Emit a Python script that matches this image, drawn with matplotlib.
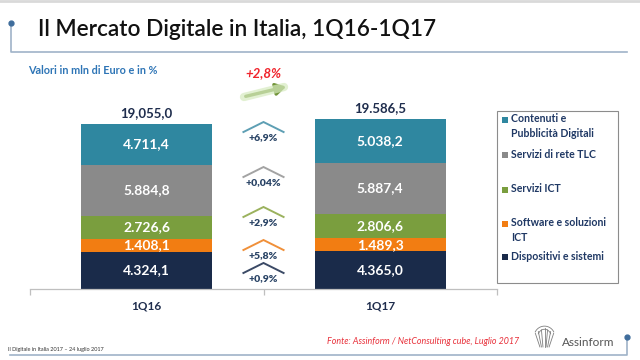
import matplotlib
matplotlib.use("Agg")
import matplotlib.pyplot as plt
from matplotlib.lines import Line2D
from matplotlib.patches import Rectangle, FancyArrowPatch
import numpy as np

# ---------------- data ----------------
categories = ['1Q16', '1Q17']
series_names = ['Dispositivi e sistemi', 'Software e soluzioni ICT', 'Servizi ICT',
                'Servizi di rete TLC', 'Contenuti e Pubblicità Digitali']
dispositivi = [4324.1, 4365.0]
software = [1408.1, 1489.3]
servizi_ict = [2726.6, 2806.6]
servizi_tlc = [5884.8, 5887.4]
contenuti = [4711.4, 5038.2]
total_labels = ['19,055,0', '19.586,5']
growth_labels = ['+0,9%', '+5,8%', '+2,9%', '+0,04%', '+6,9%']
total_growth = '+2,8%'
legend_labels = ['Contenuti e\nPubblicità Digitali', 'Servizi di rete TLC', 'Servizi ICT',
                 'Software e soluzioni\nICT', 'Dispositivi e sistemi']

# ---------------- style ----------------
colors = ['#1a2b4a', '#f27d12', '#7a9e3e', '#8a8a8a', '#2f87a0']
chev_colors = ['#3b4a66', '#f0903a', '#9bb25e', '#a3a3a3', '#5e9fb4']
navy = '#1f2d4d'
FONT = ['Lato', 'DejaVu Sans']
plt.rcParams['font.family'] = FONT

W, H = 640, 360
fig = plt.figure(figsize=(6.4, 3.6), dpi=100)
fig.patch.set_facecolor('white')

def fx(x):
    return x / W

def fy(y):
    return 1 - y / H

# ---------------- main axes ----------------
k = 0.00867  # px per unit
base_px, top_px = 289, 100
ax = fig.add_axes([fx(30), fy(base_px), 467 / W, (base_px - top_px) / H])
ymax = (base_px - top_px) / k
ax.set_xlim(-0.5, 1.5)
ax.set_ylim(0, ymax)

series = [dispositivi, software, servizi_ict, servizi_tlc, contenuti]
x = np.arange(len(categories))
bottom = np.zeros(len(categories))

def it_fmt(v):
    s = f"{v:,.1f}"
    return s.replace(',', 'X').replace('.', ',').replace('X', '.')

for vals, c in zip(series, colors):
    vals = np.array(vals)
    ax.bar(x, vals, bottom=bottom, width=0.56, color=c, linewidth=0, zorder=2)
    for xi, v, b in zip(x, vals, bottom):
        ax.text(xi, b + v / 2, it_fmt(v), ha='center', va='center', color='white',
                fontsize=10, fontweight='bold', zorder=3)
    bottom = bottom + vals

for xi, tot, lab in zip(x, bottom, total_labels):
    ax.annotate(lab, (xi, tot), xytext=(0, 8), textcoords='offset points',
                ha='center', va='center', fontsize=9.5, fontweight='bold', color=navy)

# growth chevrons between bars
apex_y = [3000, 5650, 9460, 14070, 19260]
hw = 0.086
drop = 10 / k
for ay, lab, cc in zip(apex_y, growth_labels, chev_colors):
    ax.plot([0.5 - hw, 0.5, 0.5 + hw], [ay - drop, ay, ay - drop], color=cc, lw=1.4,
            solid_joinstyle='miter', zorder=3)
    ax.annotate(lab, (0.5, ay), xytext=(0, -11.5), textcoords='offset points',
                ha='center', va='center', fontsize=7.5, fontweight='heavy', color='#2a4466')

for s in ['top', 'right', 'left']:
    ax.spines[s].set_visible(False)
ax.spines['bottom'].set_color('#bfbfbf')
ax.spines['bottom'].set_linewidth(0.9)
ax.set_yticks([])
ax.set_xticks(x)
ax.set_xticklabels(categories, fontsize=8.5, fontweight='bold', color=navy)
ax.tick_params(axis='x', which='major', length=0, pad=8)
ax.set_xticks([-0.5, 0.5, 1.5], minor=True)
ax.tick_params(axis='x', which='minor', length=4, color='#bfbfbf', width=0.9)
ax.patch.set_alpha(0)

# ---------------- title / header ----------------
fig.add_artist(Line2D([0, 1], [fy(1), fy(1)], color='#d9d9d9', lw=2))
fig.text(fx(38), fy(36), 'Il Mercato Digitale in Italia, 1Q16-1Q17', fontsize=16.3,
         fontweight='semibold', color='#111111', va='baseline', ha='left')
line_c = '#9fb3c8'
fig.add_artist(Line2D([fx(11), fx(11), fx(627)], [fy(24), fy(52), fy(52)], color=line_c, lw=1.2))
fig.add_artist(Line2D([fx(11)], [fy(23)], marker='o', ms=3.5, color='#3f6d9c', lw=0))

fig.text(fx(28), fy(70), 'Valori in mln di Euro e in %', fontsize=7.8, fontweight='bold',
         color='#2e75b6', va='center', ha='left')

# total growth
fig.text(fx(263), fy(73), total_growth, fontsize=9.5, fontweight='bold', style='italic',
         color='#f0242c', ha='center', va='center')
fig.add_artist(Line2D([fx(244), fx(284)], [fy(97), fy(87)], color='#d6ebbf', lw=6,
                      alpha=0.7, solid_capstyle='round'))
fig.add_artist(FancyArrowPatch(
    (fx(243), fy(97)), (fx(289), fy(86)), transform=fig.transFigure,
    arrowstyle='-|>,head_length=6,head_width=3.5', color='#72943a', lw=2.4,
    mutation_scale=1))

# ---------------- legend ----------------
fig.add_artist(Rectangle((fx(497), fy(283)), (618 - 497) / W, (283 - 111) / H,
                         transform=fig.transFigure, fill=False, edgecolor='#8c8c8c', lw=0.8))
leg_y = [120, 155, 190, 224, 257]
leg_colors = colors[::-1]
for yy, lab, c in zip(leg_y, legend_labels, leg_colors):
    fig.add_artist(Rectangle((fx(502), fy(yy + 3)), 6 / W, 6 / H, transform=fig.transFigure,
                             facecolor=c, edgecolor='none'))
    fig.text(fx(511), fy(yy - 6.5), lab, fontsize=7.6, fontweight='bold', color='#1f3864',
             ha='left', va='top', linespacing=1.35)

# ---------------- footer ----------------
fig.text(fx(8), fy(349), 'Il Digitale in Italia 2017 \u2013 24 luglio 2017', fontsize=4,
         color='#333333', ha='left', va='center')
fig.text(fx(327), fy(342), 'Fonte: Assinform / NetConsulting cube, Luglio 2017', fontsize=6.4,
         style='italic', color='#e8303a', ha='left', va='center')
fig.text(fx(562), fy(343), 'Assinform', fontsize=8.5, color='#555555', ha='left', va='center')
fig.add_artist(Line2D([fx(10), fx(627), fx(627)], [fy(355), fy(355), fy(338)], color=line_c, lw=1.2))
fig.add_artist(Line2D([fx(627)], [fy(337)], marker='o', ms=3.5, color='#3f6d9c', lw=0))

# simple emblem for the logo
lax = fig.add_axes([fx(533), fy(348), 23 / W, 25 / H])
lax.set_xlim(-1, 1)
lax.set_ylim(0, 1.2)
lax.axis('off')
for xo in np.linspace(-0.8, 0.8, 7):
    t = np.linspace(0, 1, 20)
    lax.plot(xo * (0.5 + 0.5 * t), 0.05 + t * (0.9 - 0.3 * abs(xo)), color='#7f7f7f', lw=0.6)
th = np.linspace(0.15 * np.pi, 0.85 * np.pi, 30)
lax.plot(0.9 * np.cos(th), 0.55 + 0.5 * np.sin(th), color='#7f7f7f', lw=0.6)
lax.plot(0.6 * np.cos(th), 0.5 + 0.4 * np.sin(th), color='#7f7f7f', lw=0.6)

fig.savefig('out.png', dpi=100, facecolor='white')
